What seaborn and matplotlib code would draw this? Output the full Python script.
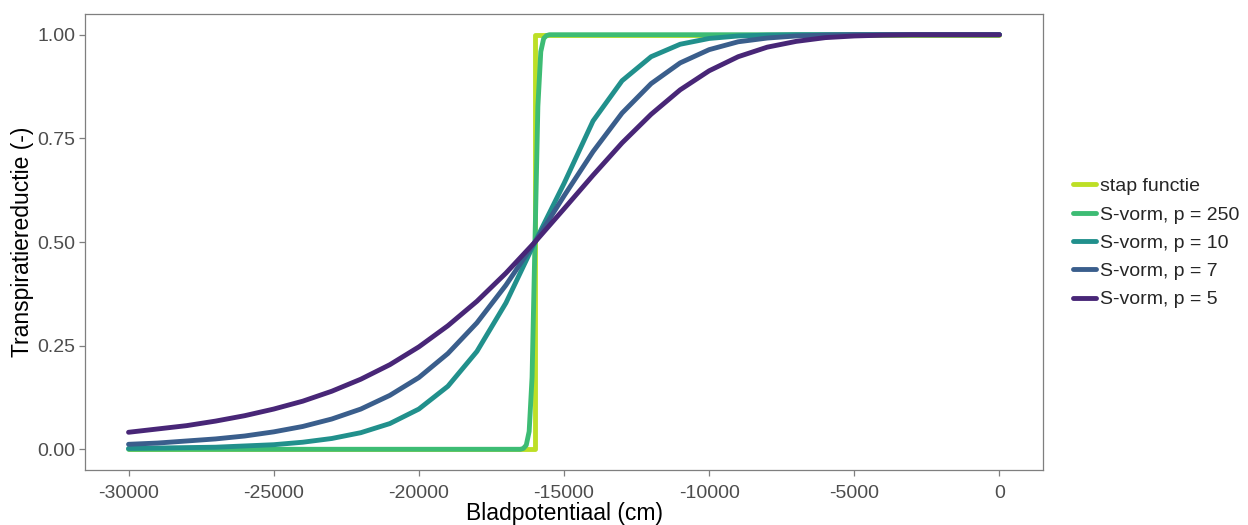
import numpy as np
import pandas as pd
import matplotlib
matplotlib.use("Agg")
import matplotlib.pyplot as plt
from matplotlib.ticker import FuncFormatter, FixedLocator
import seaborn as sns

# Leaf water potential (cm) on a 1000 cm grid
h_grid = np.arange(-30000, 1, 1000)

# Step function: jumps from 0 to 1 at -16000 cm
h_step = [-30000, -16000, -16000, 0]
f_step = [0.0, 0.0, 1.0, 1.0]

# S-shaped reduction, p = 250 (finer sampling around the transition)
h_p250 = ([-30000, -29000, -28000, -27000, -26000, -25000, -24000, -23000,
           -22000, -21000, -20000, -19000, -18000, -17000]
          + [-16500, -16400, -16300, -16200, -16100, -16000, -15900, -15800,
             -15700, -15600, -15500]
          + [-15000, -14000, -13000, -12000, -11000, -10000, -9000, -8000,
             -7000, -6000, -5000, -4000, -3000, -2000, -1000, 0])
f_p250 = ([0.0] * 14
          + [0.000, 0.002, 0.010, 0.043, 0.174, 0.500, 0.827, 0.959,
             0.991, 0.998, 1.000]
          + [1.0] * 16)

# S-shaped reduction, p = 10, 7 and 5 (values on h_grid)
f_p10 = [0.002, 0.003, 0.004, 0.005, 0.008, 0.011, 0.017, 0.026, 0.040, 0.062,
         0.097, 0.152, 0.236, 0.353, 0.500, 0.641, 0.792, 0.889, 0.947, 0.977,
         0.991, 0.997, 0.999, 1.000, 1.000, 1.000, 1.000, 1.000, 1.000, 1.000,
         1.000]
f_p7 = [0.012, 0.015, 0.020, 0.025, 0.032, 0.042, 0.055, 0.073, 0.097, 0.130,
        0.173, 0.231, 0.305, 0.396, 0.500, 0.611, 0.718, 0.811, 0.882, 0.932,
        0.964, 0.983, 0.992, 0.997, 0.999, 1.000, 1.000, 1.000, 1.000, 1.000,
        1.000]
f_p5 = [0.041, 0.049, 0.057, 0.068, 0.081, 0.097, 0.116, 0.140, 0.169, 0.204,
        0.247, 0.298, 0.357, 0.425, 0.500, 0.580, 0.661, 0.739, 0.808, 0.867,
        0.913, 0.947, 0.970, 0.984, 0.993, 0.997, 0.999, 1.000, 1.000, 1.000,
        1.000]

labels = ["stap functie", "S-vorm, p = 250", "S-vorm, p = 10",
          "S-vorm, p = 7", "S-vorm, p = 5"]
colors = ["#BDDF26", "#3DBC74", "#21908C", "#3A5E8C", "#482677"]

x_ticks = [-30000, -25000, -20000, -15000, -10000, -5000, 0]
y_ticks = [0.0, 0.25, 0.5, 0.75, 1.0]

series = [(h_step, f_step), (h_p250, f_p250), (list(h_grid), f_p10),
          (list(h_grid), f_p7), (list(h_grid), f_p5)]
frames = []
for lab, (hx, fy) in zip(labels, series):
    frames.append(pd.DataFrame({"h": hx, "f": fy, "curve": lab}))
df = pd.concat(frames, ignore_index=True)

sns.set_theme(style="white")
plt.rcParams["font.family"] = ["Liberation Sans", "DejaVu Sans"]
plt.rcParams["axes.unicode_minus"] = False

fig = plt.figure(figsize=(12.48, 5.25), dpi=100)
ax = fig.add_axes([85 / 1248, 1 - 470 / 525, (1043 - 85) / 1248, (470 - 14) / 525])

sns.lineplot(data=df, x="h", y="f", hue="curve", hue_order=labels,
             palette=dict(zip(labels, colors)), estimator=None, sort=False,
             linewidth=3.5, ax=ax, legend=True)

ax.set_xlim(-31500, 1500)
ax.set_ylim(-0.05, 1.05)
ax.xaxis.set_major_locator(FixedLocator(x_ticks))
ax.yaxis.set_major_locator(FixedLocator(y_ticks))
ax.xaxis.set_major_formatter(FuncFormatter(lambda v, _: f"{int(round(v))}"))
ax.yaxis.set_major_formatter(FuncFormatter(lambda v, _: f"{v:.2f}"))

for sp in ax.spines.values():
    sp.set_visible(True)
    sp.set_color("#7F7F7F")
    sp.set_linewidth(0.9)
ax.tick_params(axis="both", which="major", direction="out", length=4,
               width=0.9, color="#7F7F7F", labelcolor="#4D4D4D",
               labelsize=14, pad=3, bottom=True, left=True)
ax.tick_params(axis="x", pad=6.5)

ax.set_xlabel("Bladpotentiaal (cm)", fontsize=16.5, color="black", labelpad=0)
ax.set_ylabel("Transpiratiereductie (-)", fontsize=16.5, color="black", labelpad=2)

handles, hlabels = ax.get_legend_handles_labels()
ax.get_legend().remove()
fig.legend(handles, hlabels, loc="center left",
           bbox_to_anchor=(1073 / 1248, 1 - 243 / 525),
           frameon=False, fontsize=14, handlelength=1.17, handletextpad=0.2,
           labelspacing=0.55, borderpad=0, borderaxespad=0)

fig.savefig("out.png", dpi=100, facecolor="white")
